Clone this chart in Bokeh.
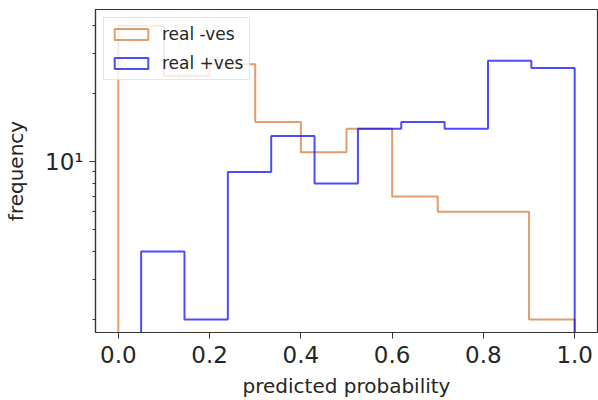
from bokeh.plotting import figure
from bokeh.models import (Range1d, FixedTicker, CustomJSTickFormatter, Legend,
                          LegendItem, ColumnDataSource)
from bokeh.embed import file_html
from bokeh.resources import INLINE

# --- data ---
neg_edges = [0.0, 0.1, 0.2, 0.3, 0.4, 0.5, 0.6, 0.7, 0.8, 0.9, 1.0]
neg_counts = [40, 24, 27, 15, 11, 14, 7, 6, 6, 2]
pos_edges = [0.05, 0.145, 0.24, 0.335, 0.43, 0.525, 0.62, 0.715, 0.81, 0.905, 1.0]
pos_counts = [4, 2, 9, 13, 8, 14, 15, 14, 28, 26]
x_ticks = [0.0, 0.2, 0.4, 0.6, 0.8, 1.0]
y_major = [10]
y_minor = [2, 3, 4, 5, 6, 7, 8, 9, 20, 30, 40]
series_names = ["real -ves", "real +ves"]

NEG_COLOR = "#d2691e"
POS_COLOR = "#0000ff"
FONT = "DejaVu Sans"
TXT = "#262626"


def step_outline(edges, counts, bottom=1.0):
    xs, ys = [edges[0]], [bottom]
    for i, c in enumerate(counts):
        xs += [edges[i], edges[i + 1]]
        ys += [c, c]
    xs.append(edges[-1])
    ys.append(bottom)
    return xs, ys


p = figure(width=598, height=400, y_axis_type="log",
           x_range=Range1d(-0.05, 1.05), y_range=Range1d(1.75, 47.2),
           output_backend="svg", toolbar_location=None,
           min_border_left=95, min_border_right=1, min_border_top=9,
           min_border_bottom=66)
p.grid.visible = False
p.background_fill_color = "white"
p.border_fill_color = "white"
p.outline_line_color = "#333333"
p.outline_line_width = 1.2

nx, ny = step_outline(neg_edges, neg_counts)
px, py = step_outline(pos_edges, pos_counts)
r_neg = p.line(nx, ny, line_color=NEG_COLOR, line_alpha=0.65, line_width=2)
r_pos = p.line(px, py, line_color=POS_COLOR, line_alpha=0.7, line_width=2)

# off-screen quads used only as outlined-rectangle legend swatches
def swatch_source():
    return ColumnDataSource(dict(left=[5.0], right=[6.0], top=[3.0], bottom=[2.0]))

q_neg = p.quad(source=swatch_source(), left="left", right="right", top="top",
               bottom="bottom", fill_alpha=0, line_color=NEG_COLOR, line_alpha=0.65,
               line_width=2)
q_pos = p.quad(source=swatch_source(), left="left", right="right", top="top",
               bottom="bottom", fill_alpha=0, line_color=POS_COLOR, line_alpha=0.7,
               line_width=2)

legend = Legend(items=[LegendItem(label=series_names[0], renderers=[q_neg]),
                       LegendItem(label=series_names[1], renderers=[q_pos])],
                location="top_left", margin=8, padding=6, spacing=9,
                glyph_width=42, glyph_height=14, label_height=20,
                label_standoff=10, label_text_font=FONT,
                label_text_font_size="17px", label_text_color=TXT,
                border_line_color="#cccccc", border_line_width=1,
                background_fill_color="white", background_fill_alpha=0.8)
p.add_layout(legend)

# x axis
xa = p.xaxis[0]
xa.ticker = FixedTicker(ticks=x_ticks, minor_ticks=[])
xa.formatter = CustomJSTickFormatter(code="return tick.toFixed(1);")
xa.axis_label = "predicted probability"
# y axis
ya = p.yaxis[0]
ya.ticker = FixedTicker(ticks=y_major, minor_ticks=y_minor)
ya.formatter = CustomJSTickFormatter(code="return '10\u00b9';")
ya.axis_label = "frequency"

for ax in (xa, ya):
    ax.axis_line_color = "#333333"
    ax.axis_line_width = 1.2
    ax.major_tick_line_color = "#333333"
    ax.minor_tick_line_color = "#333333"
    ax.major_tick_in = 0
    ax.major_tick_out = 6
    ax.minor_tick_in = 0
    ax.minor_tick_out = 3
    ax.major_label_text_font = FONT
    ax.major_label_text_font_size = "23px"
    ax.major_label_text_color = TXT
    ax.axis_label_text_font = FONT
    ax.axis_label_text_font_size = "20px"
    ax.axis_label_text_font_style = "normal"
    ax.axis_label_text_color = TXT

xa.major_label_standoff = 7
xa.axis_label_standoff = 8
ya.major_label_standoff = 6
ya.axis_label_standoff = 14

open("out.html", "w").write(file_html(p, INLINE))
